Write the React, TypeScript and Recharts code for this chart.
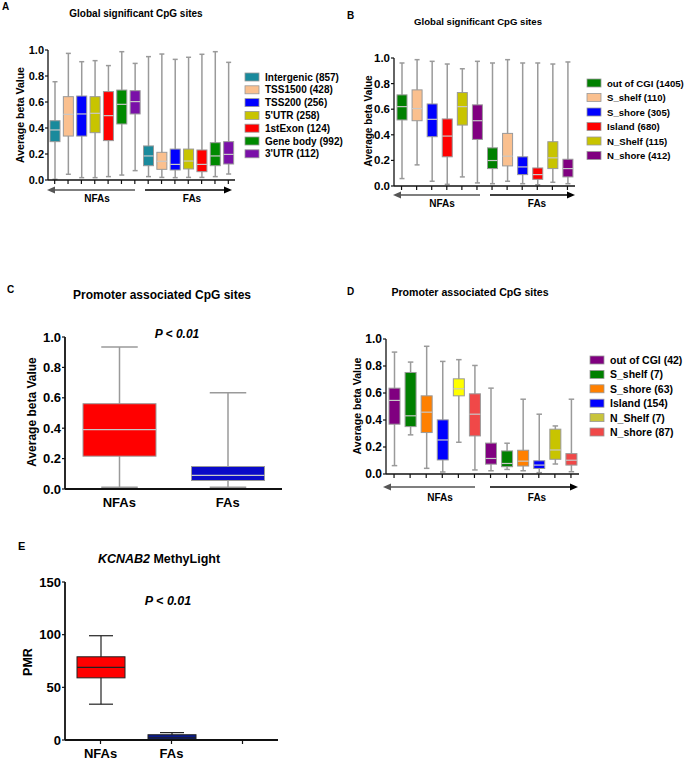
import { Bar, ComposedChart, XAxis, YAxis } from "recharts";

const FONT = "'Liberation Sans', Arial, Helvetica, sans-serif";

const groups = ["NFAs", "FAs"];
const betaTicks = [0, 0.2, 0.4, 0.6, 0.8, 1.0];
const pmrTicks = [0, 50, 100, 150];

// A: global significant CpG sites by gene region
const aRegions = ["Intergenic (857)", "TSS1500 (428)", "TSS200 (256)", "5'UTR (258)", "1stExon (124)", "Gene body (992)", "3'UTR (112)"];
const aMin = [0.005, 0.044, 0.018, 0.018, 0.026, 0.038, 0.072, 0.026, 0.02, 0.018, 0.02, 0.02, 0.026, 0.046];
const aQ1 = [0.295, 0.338, 0.338, 0.364, 0.303, 0.431, 0.508, 0.11, 0.082, 0.077, 0.085, 0.064, 0.11, 0.123];
const aMedian = [0.385, 0.505, 0.508, 0.513, 0.495, 0.582, 0.603, 0.185, 0.144, 0.12, 0.146, 0.12, 0.185, 0.197];
const aQ3 = [0.456, 0.641, 0.646, 0.641, 0.68, 0.692, 0.687, 0.262, 0.213, 0.238, 0.238, 0.231, 0.287, 0.295];
const aMax = [0.756, 0.974, 0.91, 0.918, 0.88, 0.987, 0.897, 0.949, 0.969, 0.928, 0.944, 0.967, 0.987, 0.905];

// B: global significant CpG sites by CGI context
const bRegions = ["out of CGI (1405)", "S_shelf (110)", "S_shore (305)", "Island (680)", "N_Shelf (115)", "N_shore (412)"];
const bMin = [0.058, 0.165, 0.037, 0.013, 0.071, 0.024, 0.018, 0.037, 0.018, 0.01, 0.029, 0.018];
const bQ1 = [0.516, 0.51, 0.385, 0.228, 0.476, 0.364, 0.136, 0.157, 0.089, 0.052, 0.136, 0.071];
const bMedian = [0.62, 0.605, 0.521, 0.39, 0.62, 0.51, 0.199, 0.233, 0.149, 0.089, 0.22, 0.136];
const bQ3 = [0.712, 0.751, 0.641, 0.524, 0.73, 0.634, 0.298, 0.411, 0.228, 0.141, 0.346, 0.209];
const bMax = [0.961, 0.987, 0.974, 0.953, 0.916, 0.974, 0.961, 0.987, 0.961, 0.961, 0.953, 0.969];

// C: promoter associated CpG sites
const cMin = [0.012, 0.012];
const cQ1 = [0.216, 0.056];
const cMedian = [0.39, 0.089];
const cQ3 = [0.561, 0.148];
const cMax = [0.934, 0.634];

// D: promoter associated CpG sites by CGI context
const dRegions = ["out of CGI (42)", "S_shelf (7)", "S_shore (63)", "Island (154)", "N_Shelf (7)", "N_shore (87)"];
const dMin = [0.062, 0.29, 0.042, 0.015, 0.235, 0.03, 0.024, 0.034, 0.024, 0.01, 0.074, 0.017];
const dQ1 = [0.369, 0.351, 0.307, 0.104, 0.579, 0.282, 0.073, 0.054, 0.059, 0.041, 0.109, 0.066];
const dMedian = [0.545, 0.431, 0.458, 0.252, 0.631, 0.443, 0.115, 0.078, 0.095, 0.066, 0.178, 0.102];
const dQ3 = [0.636, 0.752, 0.579, 0.401, 0.705, 0.594, 0.229, 0.171, 0.176, 0.098, 0.332, 0.151];
const dMax = [0.903, 0.829, 0.946, 0.834, 0.847, 0.804, 0.636, 0.228, 0.554, 0.443, 0.356, 0.554];

// E: KCNAB2 MethyLight PMR
const eGroups = ["NFAs", "FAs", ""];
const eMin = [34, 0];
const eQ1 = [59, 0];
const eMedian = [69, 2];
const eQ3 = [79, 5];
const eMax = [99, 7];

const aColors = ["#1a8a9c", "#fac08f", "#0000ff", "#c8c400", "#ff0000", "#008a00", "#7a10a8"];
const bColors = ["#008000", "#fac08f", "#0000ff", "#ff0000", "#c8c400", "#800080"];
const cColors = ["#ff0000", "#0a0ac8"];
const dBoxColors = ["#800080", "#008000", "#ff8000", "#0000ff", "#ffff00", "#f04848", "#800080", "#008000", "#ff8000", "#0000ff", "#c8c400", "#f04848"];
const dLegendColors = ["#800080", "#008000", "#ff8000", "#0000ff", "#c8c43c", "#f04848"];
const eColors = ["#ff0000", "#0a1a8a"];

type Row = { name: string; min?: number; q1?: number; median?: number; q3?: number; max?: number; range?: [number, number] | null; color?: string };

function buildRows(names: string[], min: number[], q1: number[], med: number[], q3: number[], max: number[], colors: string[]): Row[] {
  return names.map((name, i) =>
    min[i] == null
      ? { name, range: null }
      : { name, min: min[i], q1: q1[i], median: med[i], q3: q3[i], max: max[i], range: [min[i], max[i]], color: colors[i] }
  );
}

const groupNames = (regions: string[]) => groups.flatMap((g) => regions.map((r) => `${g} ${r}`));

const aRows = buildRows(groupNames(aRegions), aMin, aQ1, aMedian, aQ3, aMax, [...aColors, ...aColors]);
const bRows = buildRows(groupNames(bRegions), bMin, bQ1, bMedian, bQ3, bMax, [...bColors, ...bColors]);
const cRows = buildRows(groups, cMin, cQ1, cMedian, cQ3, cMax, cColors);
const dRows = buildRows(groupNames(dRegions), dMin, dQ1, dMedian, dQ3, dMax, dBoxColors);
const eRows = buildRows(eGroups, eMin, eQ1, eMedian, eQ3, eMax, eColors);

type BoxStyle = { edge: string; median: string; whisker: string; whiskerWidth: number };

function makeBoxShape(s: BoxStyle) {
  return (p: any) => {
    const r = p.payload as Row;
    if (!r || r.max == null || r.min == null) return <g />;
    const top = Math.min(p.y, p.y + p.height);
    const bottom = Math.max(p.y, p.y + p.height);
    // bar spans [min, max] on the y scale; inner stats are placed on the same scale
    const toY = (v: number) => bottom - ((v - r.min!) / (r.max! - r.min!)) * (bottom - top);
    const cx = p.x + p.width / 2;
    const cap = p.width / 4;
    const y3 = toY(r.q3!);
    const y1 = toY(r.q1!);
    const ym = toY(r.median!);
    return (
      <g>
        <line x1={cx} x2={cx} y1={top} y2={bottom} stroke={s.whisker} strokeWidth={s.whiskerWidth} />
        <line x1={cx - cap} x2={cx + cap} y1={top} y2={top} stroke={s.whisker} strokeWidth={s.whiskerWidth} />
        <line x1={cx - cap} x2={cx + cap} y1={bottom} y2={bottom} stroke={s.whisker} strokeWidth={s.whiskerWidth} />
        <rect x={p.x} y={y3} width={p.width} height={Math.max(y1 - y3, 1)} fill={r.color} stroke={s.edge} strokeWidth={1} />
        <line x1={p.x} x2={p.x + p.width} y1={ym} y2={ym} stroke={s.median} strokeWidth={1.2} />
      </g>
    );
  };
}

const grayBox: BoxStyle = { edge: "#9a9a9a", median: "#c8c8c8", whisker: "#9a9a9a", whiskerWidth: 1.5 };
const blackBox: BoxStyle = { edge: "#222", median: "#222", whisker: "#222", whiskerWidth: 1.2 };

type PanelProps = {
  rows: Row[];
  left: number;
  top: number;
  width: number;
  height: number;
  margin: { top: number; right: number; bottom: number; left: number };
  yWidth: number;
  xHeight: number;
  domain: [number, number];
  ticks: number[];
  barSize: number;
  box: BoxStyle;
  tickFont: number;
  axisWidth: number;
  xLabels?: boolean;
  xTickLine?: boolean;
  pmr?: boolean;
};

function BoxPanel(p: PanelProps) {
  return (
    <div style={{ position: "absolute", left: p.left, top: p.top }}>
      <ComposedChart width={p.width} height={p.height} data={p.rows} margin={p.margin}>
        <XAxis
          dataKey="name"
          interval={0}
          height={p.xHeight}
          axisLine={{ stroke: "#111", strokeWidth: p.axisWidth }}
          tickLine={p.xTickLine === false ? false : { stroke: "#111", strokeWidth: 1.2 }}
          tickSize={4}
          tickMargin={p.xLabels ? 5 : 2}
          tickFormatter={(v: string) => (p.xLabels ? v : "")}
          tick={{ fill: "#000", fontSize: p.tickFont, fontWeight: 700, fontFamily: FONT }}
        />
        <YAxis
          type="number"
          width={p.yWidth}
          domain={p.domain}
          ticks={p.ticks}
          interval={0}
          axisLine={{ stroke: "#111", strokeWidth: p.axisWidth }}
          tickLine={{ stroke: "#111", strokeWidth: 1.2 }}
          tickSize={3}
          tickMargin={1}
          tickFormatter={(v: number) => (p.pmr ? String(v) : v.toFixed(1))}
          tick={{ fill: "#000", fontSize: p.tickFont, fontWeight: 700, fontFamily: FONT }}
        />
        <Bar dataKey="range" barSize={p.barSize} shape={makeBoxShape(p.box)} isAnimationActive={false} />
      </ComposedChart>
    </div>
  );
}

function Arrow({ x1, x2, y, color, head }: { x1: number; x2: number; y: number; color: string; head: "left" | "right" }) {
  const hx = head === "left" ? x1 : x2;
  const d = head === "left" ? 8 : -8;
  return (
    <g>
      <line x1={head === "left" ? x1 + 6 : x1} x2={head === "right" ? x2 - 6 : x2} y1={y} y2={y} stroke={color} strokeWidth={1.6} />
      <polygon points={`${hx},${y} ${hx + d},${y - 3.5} ${hx + d},${y + 3.5}`} fill={color} />
    </g>
  );
}

function Legend({ x, y, step, labels, colors, size }: { x: number; y: number; step: number; labels: string[]; colors: string[]; size: number }) {
  return (
    <g>
      {labels.map((l, i) => (
        <g key={l}>
          <rect x={x} y={y + i * step - 4} width={14} height={8} fill={colors[i]} stroke="#999" strokeWidth={0.8} />
          <text x={x + 20} y={y + i * step} dominantBaseline="central" fontSize={size} fontWeight={700}>
            {l}
          </text>
        </g>
      ))}
    </g>
  );
}

function VLabel({ x, y, text, size }: { x: number; y: number; text: string; size: number }) {
  return (
    <text x={x} y={y} transform={`rotate(-90 ${x} ${y})`} textAnchor="middle" dominantBaseline="central" fontSize={size} fontWeight={700}>
      {text}
    </text>
  );
}

export default function App() {
  return (
    <div style={{ position: "absolute", left: 0, top: 0, width: 689, height: 761, background: "#fff", fontFamily: FONT }}>
      <BoxPanel rows={aRows} left={0} top={0} width={240} height={200} margin={{ top: 50, right: 5, bottom: 10, left: 12 }} yWidth={36} xHeight={10} domain={[0, 1]} ticks={betaTicks} barSize={10} box={grayBox} tickFont={11} axisWidth={1.3} />
      <BoxPanel rows={bRows} left={345} top={0} width={240} height={206} margin={{ top: 58, right: 10, bottom: 10, left: 13 }} yWidth={36} xHeight={10} domain={[0, 1]} ticks={betaTicks} barSize={10} box={grayBox} tickFont={11.5} axisWidth={1.3} />
      <BoxPanel rows={cRows} left={0} top={300} width={300} height={220} margin={{ top: 37, right: 18, bottom: 7, left: 25 }} yWidth={40} xHeight={24} domain={[0, 1]} ticks={betaTicks} barSize={73} box={grayBox} tickFont={13} axisWidth={1.8} xLabels xTickLine={false} />
      <BoxPanel rows={dRows} left={345} top={300} width={250} height={190} margin={{ top: 39, right: 16, bottom: 6, left: 7 }} yWidth={34} xHeight={10} domain={[0, 1]} ticks={betaTicks} barSize={11} box={grayBox} tickFont={12} axisWidth={1.3} />
      <BoxPanel rows={eRows} left={0} top={560} width={300} height={201} margin={{ top: 22, right: 22, bottom: 0, left: 25 }} yWidth={40} xHeight={21} domain={[0, 150]} ticks={pmrTicks} barSize={48} box={blackBox} tickFont={13} axisWidth={1.8} xLabels pmr />

      <svg width={689} height={761} style={{ position: "absolute", left: 0, top: 0, pointerEvents: "none" }} fontFamily={FONT}>
        {/* panel letters */}
        <text x={2} y={10} fontSize={10} fontWeight={700}>A</text>
        <text x={347} y={19} fontSize={10} fontWeight={700}>B</text>
        <text x={7} y={293} fontSize={10} fontWeight={700}>C</text>
        <text x={347} y={295} fontSize={10} fontWeight={700}>D</text>
        <text x={18} y={550} fontSize={11} fontWeight={700}>E</text>

        {/* titles */}
        <text x={136} y={16.5} textAnchor="middle" fontSize={10} fontWeight={700}>Global significant CpG sites</text>
        <text x={478} y={24.5} textAnchor="middle" fontSize={9.6} fontWeight={700}>Global significant CpG sites</text>
        <text x={162} y={299} textAnchor="middle" fontSize={12} fontWeight={700}>Promoter associated CpG sites</text>
        <text x={470} y={295.5} textAnchor="middle" fontSize={10.6} fontWeight={700}>Promoter associated CpG sites</text>
        <text x={159} y={563} textAnchor="middle" fontSize={12.5} fontWeight={700}>
          <tspan fontStyle="italic">KCNAB2</tspan> MethyLight
        </text>

        <text x={177} y={337.5} textAnchor="middle" fontSize={12} fontWeight={700} fontStyle="italic">P &lt; 0.01</text>
        <text x={168} y={604.5} textAnchor="middle" fontSize={12.5} fontWeight={700} fontStyle="italic">P &lt; 0.01</text>

        {/* y-axis titles */}
        <VLabel x={20} y={115} text="Average beta Value" size={10.5} />
        <VLabel x={368} y={121} text="Average beta Value" size={10} />
        <VLabel x={32} y={412} text="Average beta Value" size={12} />
        <VLabel x={357} y={406} text="Average beta Value" size={10.6} />
        <VLabel x={28} y={662} text="PMR" size={12.5} />

        {/* group arrows */}
        <Arrow x1={47} x2={135} y={190} color="#555" head="left" />
        <Arrow x1={145} x2={232} y={190} color="#000" head="right" />
        <text x={97} y={198} textAnchor="middle" dominantBaseline="central" fontSize={10} fontWeight={700}>NFAs</text>
        <text x={192} y={198} textAnchor="middle" dominantBaseline="central" fontSize={10} fontWeight={700}>FAs</text>

        <Arrow x1={393} x2={480} y={195} color="#555" head="left" />
        <Arrow x1={490} x2={575} y={195} color="#000" head="right" />
        <text x={442} y={203} textAnchor="middle" dominantBaseline="central" fontSize={10} fontWeight={700}>NFAs</text>
        <text x={537} y={203} textAnchor="middle" dominantBaseline="central" fontSize={10} fontWeight={700}>FAs</text>

        <Arrow x1={383} x2={475} y={487} color="#555" head="left" />
        <Arrow x1={490} x2={578} y={487} color="#000" head="right" />
        <text x={440} y={497} textAnchor="middle" dominantBaseline="central" fontSize={10} fontWeight={700}>NFAs</text>
        <text x={537} y={497} textAnchor="middle" dominantBaseline="central" fontSize={10} fontWeight={700}>FAs</text>

        {/* legends */}
        <Legend x={245} y={77} step={12.8} labels={aRegions} colors={aColors} size={10} />
        <Legend x={587} y={83} step={14.5} labels={bRegions} colors={bColors} size={9.6} />
        <Legend x={590} y={360} step={14.4} labels={dRegions} colors={dLegendColors} size={10.5} />
      </svg>
    </div>
  );
}
